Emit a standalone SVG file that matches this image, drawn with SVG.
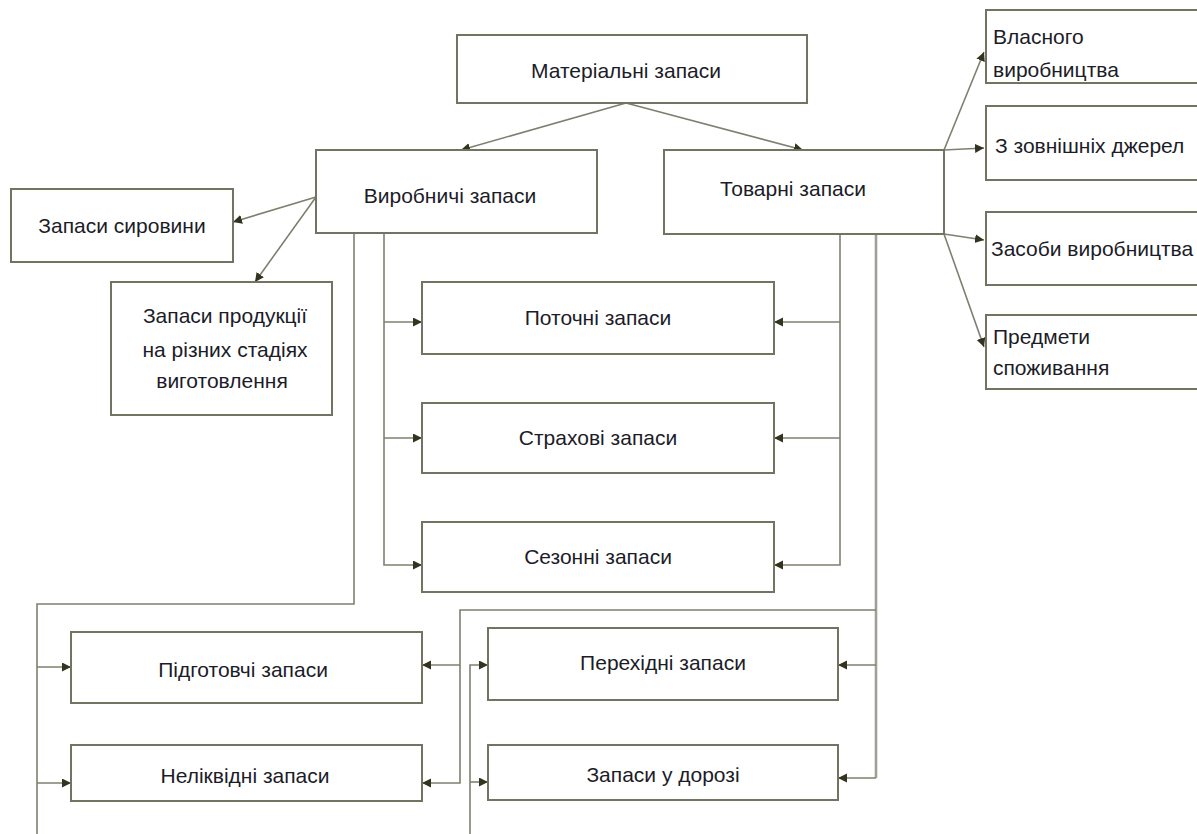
<svg xmlns="http://www.w3.org/2000/svg" width="1197" height="834" viewBox="0 0 1197 834">
<defs>
<style>
.box{fill:#ffffff;stroke:#737362;stroke-width:2}
.t{font-family:"Liberation Sans",Arial,sans-serif;font-size:21px;fill:#1c1c28;text-anchor:middle}
.tl{font-family:"Liberation Sans",Arial,sans-serif;font-size:21px;fill:#1c1c28}
.c{fill:none;stroke:#7f7f70;stroke-width:1.6}
.cw{fill:none;stroke:#a0a094;stroke-width:2.6}
.a{marker-end:url(#ah)}
</style>
<marker id="ah" markerUnits="userSpaceOnUse" markerWidth="10" markerHeight="10" refX="9" refY="4.5" orient="auto">
<path d="M0,0 L9,4.5 L0,9 z" fill="#33331f"/>
</marker>
</defs>
<rect width="1197" height="834" fill="#ffffff"/>

<g id="connectors">
<path class="c a" d="M626,103 L461,150"/>
<path class="c a" d="M626,103 L803,150"/>
<path class="c a" d="M316,197 L233,222"/>
<path class="c a" d="M316,197 L255,282"/>
<path class="c a" d="M384,233 V565 H422"/>
<path class="c a" d="M384,322 H422"/>
<path class="c a" d="M384,438 H422"/>
<path class="c" d="M354,233 V604 H37 V834"/>
<path class="c a" d="M37,667 H71"/>
<path class="c a" d="M37,783 H71"/>
<path class="c a" d="M840,234 V565 H774"/>
<path class="c a" d="M840,322 H774"/>
<path class="c a" d="M840,438 H774"/>
<path class="cw" d="M876,234 V778"/>
<path class="c a" d="M876,778 H838"/>
<path class="c a" d="M876,665 H838"/>
<path class="c a" d="M876,610 H460 V783 H422"/>
<path class="c a" d="M460,665 H422"/>
<path class="c a" d="M470,834 V665 H488"/>
<path class="c a" d="M470,782 H488"/>
<path class="c a" d="M944,150 L984,52"/>
<path class="c a" d="M944,150 L984,148"/>
<path class="c a" d="M944,234 L984,240"/>
<path class="c a" d="M944,234 L984,347"/>
</g>

<g id="n-materialni"><rect class="box" x="457" y="35" width="350" height="68"/><text class="t" x="626" y="78">Матеріальні запаси</text></g>
<g id="n-vyrobnychi"><rect class="box" x="316" y="150" width="281" height="83"/><text class="t" x="450" y="203">Виробничі запаси</text></g>
<g id="n-tovarni"><rect class="box" x="664" y="150" width="280" height="84"/><text class="t" x="793" y="196">Товарні запаси</text></g>
<g id="n-syrovyny"><rect class="box" x="11" y="189" width="222" height="73"/><text class="t" x="122" y="233">Запаси сировини</text></g>
<g id="n-produktsii"><rect class="box" x="111" y="282" width="221" height="133"/><text class="t" x="225" y="323">Запаси продукції</text><text class="t" x="225" y="357">на різних стадіях</text><text class="t" x="222" y="388">виготовлення</text></g>
<g id="n-potochni"><rect class="box" x="422" y="282" width="352" height="72"/><text class="t" x="598" y="325">Поточні запаси</text></g>
<g id="n-strakhovi"><rect class="box" x="422" y="403" width="352" height="70"/><text class="t" x="598" y="445">Страхові запаси</text></g>
<g id="n-sezonni"><rect class="box" x="422" y="522" width="352" height="70"/><text class="t" x="598" y="564">Сезонні запаси</text></g>
<g id="n-pidhotovchi"><rect class="box" x="71" y="632" width="351" height="71"/><text class="t" x="243" y="677">Підготовчі запаси</text></g>
<g id="n-nelikvidni"><rect class="box" x="71" y="745" width="351" height="56"/><text class="t" x="245" y="783">Неліквідні запаси</text></g>
<g id="n-perekhidni"><rect class="box" x="488" y="628" width="350" height="72"/><text class="t" x="663" y="670">Перехідні запаси</text></g>
<g id="n-dorozi"><rect class="box" x="488" y="745" width="350" height="55"/><text class="t" x="663" y="782">Запаси у дорозі</text></g>
<g id="n-vlasnoho"><rect class="box" x="986" y="10" width="230" height="73"/><text class="tl" x="993" y="44">Власного</text><text class="tl" x="993" y="77">виробництва</text></g>
<g id="n-zovnishnikh"><rect class="box" x="986" y="106" width="230" height="74"/><text class="tl" x="995" y="153">З зовнішніх джерел</text></g>
<g id="n-zasoby"><rect class="box" x="986" y="212" width="230" height="73"/><text class="tl" x="991" y="256">Засоби виробництва</text></g>
<g id="n-predmety"><rect class="box" x="986" y="315" width="230" height="74"/><text class="tl" x="993" y="344">Предмети</text><text class="tl" x="993" y="375">споживання</text></g>
</svg>
